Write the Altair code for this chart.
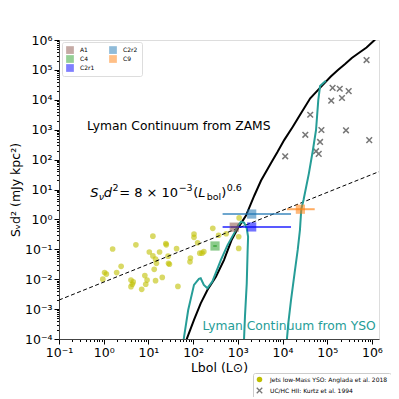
import altair as alt
import pandas as pd

# ---------------- data (log10 values) ----------------
jets_logL = [1.10, 0.20, 0.72, 2.02, 2.02, 1.39, 1.40, 1.02, 1.25, 1.10, 1.63, 1.45, 1.47, 1.94, 1.93,
             0.02, 0.06, -0.02, 0.29, 0.39, 1.16, 1.18, 1.13, 1.31, 1.16, 0.97, 0.92, 0.94, 0.85, 0.61,
             0.66, 0.64, 0.61, 1.66, 1.44, 2.10, 2.15, 2.24, 2.20, 2.44, 2.57, 2.74, 3.03, 3.02, 3.02]
jets_logS = [-0.56, -0.99, -0.85, -0.49, -0.60, -0.81, -0.85, -1.09, -1.09, -1.22, -0.98, -1.47, -1.50, -1.29, -1.42,
             -1.78, -1.83, -2.00, -1.78, -1.57, -1.33, -1.47, -1.67, -1.94, -2.05, -2.03, -1.88, -2.17, -2.34, -2.03,
             -2.09, -2.17, -2.25, -2.24, -1.23, -0.78, -1.13, -1.08, -1.13, -0.30, -0.53, -0.48, 0.05, -0.58, -0.97]

hii_logL = [5.88, 5.12, 5.28, 5.48, 5.09, 5.33, 4.62, 4.87, 4.51, 5.42, 5.94, 4.84, 4.75, 4.81, 4.06]
hii_logS = [5.33, 4.40, 4.37, 4.29, 3.97, 4.06, 3.50, 2.99, 2.83, 2.98, 2.65, 2.59, 2.28, 2.19, 2.11]

region_names = ["A1", "C4", "C2r1", "C2r2", "C9"]
region_L = [832, 309, 2042, 2042, 25100]
region_S = [0.55, 0.129, 0.56, 1.51, 2.19]
region_Llo = [700, 282, 457, 457, 12600]
region_Lhi = [1000, 339, 15500, 15500, 52500]
region_colors = ["#8c564b", "#2ca02c", "#0000ff", "#1f77b4", "#ff7f0e"]

zams_logL = [1.73, 1.85, 2.02, 2.17, 2.32, 2.51, 2.69, 2.86, 3.02, 3.18, 3.37, 3.52, 3.74, 3.89,
             4.04, 4.23, 4.40, 4.62, 4.87, 5.08, 5.24, 5.40, 5.55, 5.69, 5.88, 6.06, 6.20]
zams_logS = [-4.5, -4.03, -3.36, -2.81, -2.36, -1.92, -1.36, -0.69, -0.25, 0.12, 0.80, 1.30, 1.88, 2.26,
             2.66, 3.10, 3.52, 4.05, 4.45, 4.78, 5.00, 5.20, 5.40, 5.55, 5.75, 6.00, 6.25]

yso_logL = [1.77, 1.79, 1.89, 2.02, 2.13, 2.17, 2.24, 2.32, 2.43, 2.62, 2.77, 2.92, 3.01, 3.07, 3.14,
            3.20, 3.23, 3.22, 3.20, 3.16, 3.14, 3.13, 4.08, 4.10, 4.13, 4.19, 4.27, 4.34, 4.39, 4.42,
            4.47, 4.59, 4.68, 4.75, 4.80, 4.84, 4.97]
yso_logS = [-4.6, -4.0, -3.03, -2.19, -1.99, -1.97, -2.19, -2.30, -2.08, -1.36, -0.86, -0.46, -0.19, -0.08, -0.11,
            -0.30, -0.58, -1.02, -2.14, -3.25, -3.98, -4.6, -4.6, -3.98, -3.47, -2.70, -1.80, -1.02, -0.35, 0.34,
            0.65, 1.54, 2.32, 2.99, 3.99, 4.46, 4.64]

fit_L = [0.1, 1.44e6]
fit_S = [0.00201, 39.6]

TEAL = "#269d97"
FONT = "DejaVu Sans"

# ---------------- tables ----------------
pts = pd.DataFrame({
    "series": ["Jets low-Mass YSO: Anglada et al. 2018"] * len(jets_logL)
              + ["UC/HC HII: Kurtz et al. 1994"] * len(hii_logL),
    "L": [10 ** v for v in jets_logL + hii_logL],
    "S": [10 ** v for v in jets_logS + hii_logS],
})
reg = pd.DataFrame({"region": region_names, "L": region_L, "S": region_S,
                    "Llo": region_Llo, "Lhi": region_Lhi, "col": region_colors})
zams = pd.DataFrame({"L": [10 ** v for v in zams_logL], "S": [10 ** v for v in zams_logS],
                     "i": list(range(len(zams_logL)))})
yso = pd.DataFrame({"L": [10 ** v for v in yso_logL], "S": [10 ** v for v in yso_logS],
                    "i": list(range(len(yso_logL)))})
fit = pd.DataFrame({"L": fit_L, "S": fit_S})

# ---------------- scales / axes ----------------
XDOM = [0.1, 1.44e6]
YDOM = [1e-4, 1e6]
xs = alt.Scale(type="log", domain=XDOM, nice=False)
ys = alt.Scale(type="log", domain=YDOM, nice=False)

E = "round(log(datum.value)/LN10)"
MAJOR = f"abs(log(datum.value)/LN10 - {E}) < 0.01"
sup = f"('' + {E})"
for a, b in [("-", "⁻"), ("0", "⁰"), ("1", "¹"), ("2", "²"), ("3", "³"), ("4", "⁴"), ("5", "⁵"), ("6", "⁶")]:
    sup = f"replace({sup}, '{a}', '{b}')"
LABEL = f"{MAJOR} ? '10' + {sup} : ''"

x_ticks = [k * 10.0 ** e for e in range(-1, 6) for k in range(1, 10)] + [1e6]
y_ticks = [k * 10.0 ** e for e in range(-4, 6) for k in range(1, 10)] + [1e6]


def axis(values, title, **kw):
    return alt.Axis(values=values, labelExpr=LABEL, title=title, grid=False,
                    labelOverlap=False, labelFlush=False, labelFontSize=12.5, labelFont=FONT,
                    labelColor="#000", tickColor="#000", domainColor="#444",
                    tickSize={"condition": {"test": MAJOR, "value": 5}, "value": 2.5},
                    titleFont=FONT, titleFontSize=12.5, titleFontWeight="normal", titleColor="#000",
                    **kw)


X = alt.X("L:Q", scale=xs, axis=axis(x_ticks, "Lbol (L⊙)", labelPadding=2, titlePadding=3))
Y = alt.Y("S:Q", scale=ys, axis=axis(y_ticks, "Sᵥd² (mJy kpc²)", labelPadding=2, titlePadding=2))

pt_dom = ["Jets low-Mass YSO: Anglada et al. 2018", "UC/HC HII: Kurtz et al. 1994"]
pt_leg = alt.Legend(title=None, orient="none", legendX=194, legendY=333, labelFontSize=6, labelFont=FONT,
                    padding=3, strokeColor="#ccc", fillColor="white", cornerRadius=2, rowPadding=0,
                    labelOffset=7, symbolStrokeWidth=1.3, symbolSize=30)
points = alt.Chart(pts).mark_point(fillOpacity=0.6, strokeWidth=1.5, opacity=1, size=32).encode(
    x=X, y=Y,
    fill=alt.Fill("series:N", scale=alt.Scale(domain=pt_dom, range=["#bfbf00", "transparent"]), legend=pt_leg),
    stroke=alt.Stroke("series:N", scale=alt.Scale(domain=pt_dom, range=["transparent", "#777777"]), legend=pt_leg),
    shape=alt.Shape("series:N", scale=alt.Scale(domain=pt_dom, range=["circle", "M-1,-1L1,1M-1,1L1,-1"]), legend=pt_leg),
)

fit_line = alt.Chart(fit).mark_line(color="black", strokeWidth=1, strokeDash=[4, 2.5], clip=True).encode(x=X, y=Y)
zams_line = alt.Chart(zams).mark_line(color="black", strokeWidth=2, clip=True).encode(x=X, y=Y, order="i:Q")
yso_line = alt.Chart(yso).mark_line(color=TEAL, strokeWidth=2, clip=True).encode(x=X, y=Y, order="i:Q")

bars = []
for name, c in zip(region_names, region_colors):
    bars.append(alt.Chart(reg).transform_filter(alt.datum.region == name)
                .mark_rule(color=c, strokeWidth=2, opacity=0.65)
                .encode(x=X, x2="Lhi:Q", y=Y)
                .transform_calculate(L="datum.Llo"))

squares = alt.Chart(reg).mark_square(size=85, opacity=0.55).encode(
    x=X, y=Y,
    color=alt.Color("region:N", scale=alt.Scale(domain=region_names, range=region_colors),
                    legend=alt.Legend(title=None, orient="none", legendX=3, legendY=2, columns=2,
                                      symbolType="square", symbolSize=60, symbolOpacity=0.5,
                                      symbolStrokeWidth=0, labelFontSize=6, labelFont=FONT,
                                      fillColor="white", strokeColor="#ddd", cornerRadius=2,
                                      padding=4, rowPadding=1, columnPadding=14, labelOffset=6)),
)


def text_layer(txt, L, S, size, color="black", dx=0, dy=0, italic=False):
    df = pd.DataFrame({"L": [L], "S": [S], "t": [txt]})
    return alt.Chart(df).mark_text(align="left", baseline="middle", fontSize=size, font=FONT, color=color,
                                   dx=dx, dy=dy, fontStyle="italic" if italic else "normal").encode(
        x=X, y=Y, text="t:N")


FX, FY = 0.497, 7.64
formula = [
    ("S", 13, 0, 0, True), ("ν", 9.5, 8.6, 4, True), ("d", 13, 13.5, 0, True), ("2", 9.5, 22.3, -5, False),
    ("= 8 × 10", 13, 29, 0, False), ("−3", 9.5, 88.5, -5, False), ("(", 13, 103, 0, False),
    ("L", 13, 108, 0, True), ("bol", 9.5, 116.5, 4, False), (")", 13, 131, 0, False),
    ("0.6", 9.5, 136.5, -5, False),
]
texts = [text_layer("Lyman Continuum from ZAMS", 0.425, 1330, 12.3),
         text_layer("Lyman Continuum from YSO", 162, 2.72e-4, 12.3, color=TEAL)]
for t, s, dx, dy, it in formula:
    texts.append(text_layer(t, FX, FY, s, dx=dx, dy=dy, italic=it))

chart = alt.layer(points, fit_line, zams_line, yso_line, *bars, squares, *texts).properties(
    width=320, height=299,
    padding={"left": 51, "top": 32, "right": 12, "bottom": 58},
    autosize=alt.AutoSizeParams(type="none"),
).configure_view(stroke="#999", strokeWidth=1).configure(background="white")

chart.save("out.html", embed_options={"renderer": "svg", "actions": False})
